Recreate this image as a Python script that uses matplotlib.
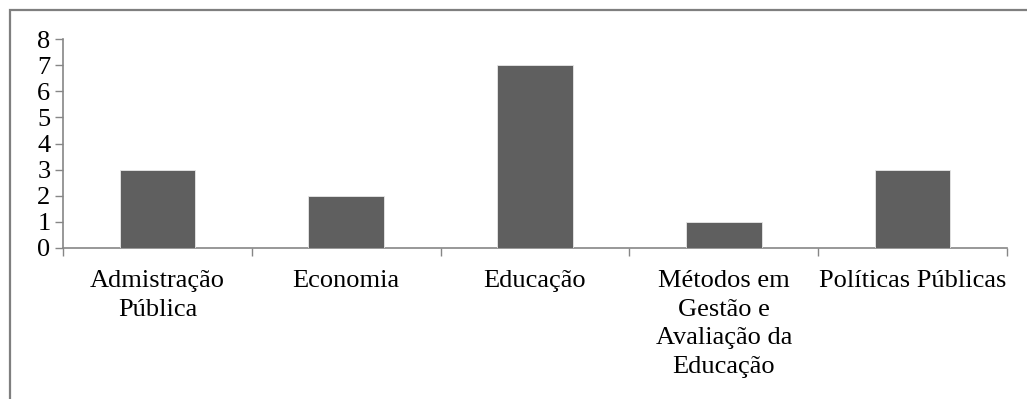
import matplotlib.pyplot as plt
from matplotlib.patches import Rectangle
from matplotlib.ticker import FixedLocator

# dados
categorias = ['Admistração\nPública', 'Economia', 'Educação',
              'Métodos em\nGestão e\nAvaliação da\nEducação', 'Políticas Públicas']
valores = [3, 2, 7, 1, 3]
y_ticks = [0, 1, 2, 3, 4, 5, 6, 7, 8]

plt.rcParams['font.family'] = ['Liberation Serif', 'DejaVu Serif']

fig = plt.figure(figsize=(10.27, 3.99), dpi=100)
ax = fig.add_axes([63 / 1027, 1 - 248 / 399, 944 / 1027, 209 / 399])

x = range(len(categorias))
ax.bar(x, valores, width=0.40, color='#5f5f5f', edgecolor='#e8e8e8', linewidth=0.6, zorder=3)

ax.set_xlim(-0.5, len(categorias) - 0.5)
ax.set_ylim(0, 8)
ax.set_yticks(y_ticks)

# rótulos centrados nas categorias, marcas entre categorias
ax.set_xticks(list(x))
ax.set_xticklabels(categorias, fontsize=19, linespacing=1.39)
ax.xaxis.set_minor_locator(FixedLocator([i - 0.5 for i in range(len(categorias) + 1)]))
ax.tick_params(axis='x', which='major', length=0, pad=16)
ax.tick_params(axis='x', which='minor', length=6, width=1, color='#868686', direction='out')
ax.tick_params(axis='y', length=6, width=1, color='#868686', direction='out', pad=3,
               labelsize=19)

for s in ['top', 'right']:
    ax.spines[s].set_visible(False)
for s in ['left', 'bottom']:
    ax.spines[s].set_color('#868686')
    ax.spines[s].set_linewidth(1.2)

# borda cinza da área do gráfico (cortada à direita e em baixo)
fig.patches.append(Rectangle((10 / 1027, -0.1), 1.2, 1 - 10 / 399 + 0.1,
                             transform=fig.transFigure, fill=False,
                             edgecolor='#7f7f7f', linewidth=1.6))

fig.savefig('out.png', dpi=100)
